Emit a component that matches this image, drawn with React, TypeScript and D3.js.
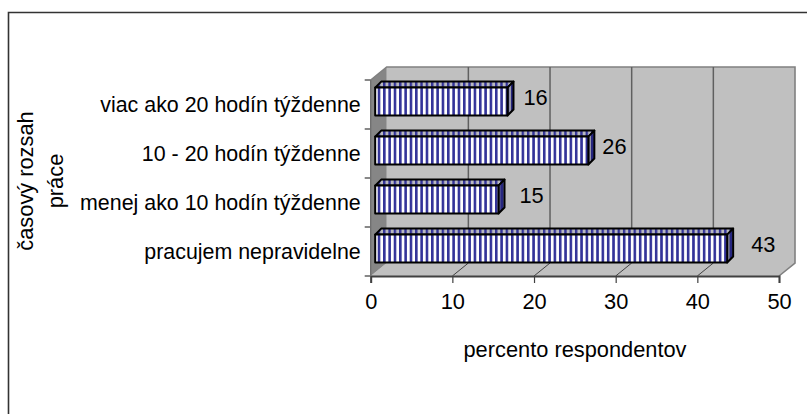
import * as d3 from 'd3';
import { useEffect, useRef } from 'react';

const categories = ['viac ako 20 hodín týždenne', '10 - 20 hodín týždenne', 'menej ako 10 hodín týždenne', 'pracujem nepravidelne'];
const values = [16.2, 26.1, 15.1, 43.1];
const valueLabels = ['16', '26', '15', '43'];
const xTicks = [0, 10, 20, 30, 40, 50];
const yTitleLines = ['časový rozsah', 'práce'];
const xTitle = 'percento respondentov';

const FONT = '"Liberation Sans", Arial, sans-serif';
const FONT_SIZE = 21.8;
const CATEGORY_FONT_SIZE = 21.4;
const width = 807, height = 414;
const plot = { left: 370.7, right: 779, top: 80, bottom: 276 };
const depth = { x: 16, y: 13 };
const bar = { depth: 6, inset: 4.5 };
const labelGap = [16, 14, 21, 24];

export default function App() {
  const ref = useRef<SVGSVGElement>(null);

  useEffect(() => {
    const svg = d3.select(ref.current);
    svg.selectAll('*').remove();

    const x = d3.scaleLinear().domain([0, 50]).range([plot.left, plot.right]);
    const y = d3.scaleBand().domain(categories).range([plot.top, plot.bottom]);
    const band = y.bandwidth();

    const defs = svg.append('defs');
    const stripes = (id: string, a: string, b: string, split: number) => {
      const w = 5.33;
      const p = defs.append('pattern').attr('id', id).attr('patternUnits', 'userSpaceOnUse')
        .attr('patternTransform', 'translate(377.7,0)')
        .attr('width', w).attr('height', 8);
      p.append('rect').attr('width', w).attr('height', 8).attr('fill', b);
      p.append('rect').attr('width', split).attr('height', 8).attr('fill', a);
    };
    stripes('front', '#333399', '#ffffff', 2.6);
    stripes('top', '#333399', '#b9b9c0', 2.4);
    stripes('side', '#262680', '#9a9aa8', 3.2);

    // chart frame, only top and left edges are in the picture
    svg.append('path').attr('d', `M8.5,${height}V12.5H${width}`)
      .attr('fill', 'none').attr('stroke', '#333').attr('stroke-width', 1.6);

    // walls and floor
    const wall = svg.append('g').attr('stroke-linejoin', 'miter');
    const poly = (pts: number[][], fill: string, stroke = 'none') =>
      wall.append('path').attr('d', d3.line()(pts as [number, number][]) + 'Z')
        .attr('fill', fill).attr('stroke', stroke);
    const L = plot.left, R = plot.right, T = plot.top, B = plot.bottom, dx = depth.x, dy = depth.y;
    poly([[L + dx, T - dy], [R + dx, T - dy], [R + dx, B - dy], [L + dx, B - dy]], '#c0c0c0');
    poly([[L, B], [R, B], [R + dx, B - dy], [L + dx, B - dy]], '#c0c0c0');
    poly([[L, T], [L + dx, T - dy], [L + dx, B - dy], [L, B]], '#868686');
    svg.append('path')
      .attr('d', `M${L},${T}L${L + dx},${T - dy}H${R + dx}V${B - dy}L${R},${B}`)
      .attr('fill', 'none').attr('stroke', '#808080').attr('stroke-width', 1.6);

    // gridlines run up the back wall and across the floor
    const grid = svg.append('g');
    grid.selectAll('path.wall').data(xTicks.slice(1, -1)).enter().append('path')
      .attr('class', 'wall').attr('fill', 'none').attr('stroke', '#606060').attr('stroke-width', 1.5)
      .attr('d', d => `M${x(d) + dx},${T - dy}V${B - dy}`);
    grid.selectAll('path.floor').data(xTicks.slice(1, -1)).enter().append('path')
      .attr('class', 'floor').attr('fill', 'none').attr('stroke', '#333').attr('stroke-width', 0.9)
      .attr('d', d => `M${x(d) + dx},${B - dy}L${x(d)},${B}`);

    // bars
    const barH = band * 0.57;
    const barTop = band * 0.155;
    const bars = svg.selectAll('g.bar').data(categories).enter().append('g').attr('class', 'bar')
      .attr('stroke', '#000').attr('stroke-width', 2).attr('stroke-linejoin', 'round');
    const d = bar.depth;
    bars.each(function (c, i) {
      const g = d3.select(this);
      const x0 = plot.left + bar.inset;
      const x1 = x(values[i]) + bar.inset;
      const y0 = y(c)! + barTop;
      const y1 = y0 + barH;
      g.append('path').attr('fill', 'url(#top)')
        .attr('d', `M${x0},${y0}L${x0 + d},${y0 - d}H${x1 + d}L${x1},${y0}Z`);
      g.append('path').attr('fill', 'url(#side)')
        .attr('d', `M${x1},${y0}L${x1 + d},${y0 - d}V${y1 - d}L${x1},${y1}Z`);
      g.append('rect').attr('x', x0).attr('y', y0).attr('width', x1 - x0).attr('height', barH)
        .attr('fill', 'url(#front)');
    });

    // value labels
    svg.selectAll('text.value').data(categories).enter().append('text').attr('class', 'value')
      .attr('x', (_, i) => x(values[i]) + bar.inset + labelGap[i])
      .attr('y', c => y(c)! + band * 0.34)
      .attr('dy', '0.36em').attr('fill', '#000')
      .attr('font-family', FONT).attr('font-size', FONT_SIZE)
      .text((_, i) => valueLabels[i]);

    // axes
    const xAxis = svg.append('g').attr('transform', `translate(0,${B})`)
      .call(d3.axisBottom(x).tickValues(xTicks).tickFormat(d3.format('d')).tickSize(7).tickPadding(11));
    xAxis.select('.domain').attr('stroke', '#404040').attr('stroke-width', 2);
    xAxis.selectAll('.tick line').attr('stroke', '#404040').attr('stroke-width', 1.2);
    xAxis.selectAll('text').attr('font-family', FONT).attr('font-size', FONT_SIZE).attr('fill', '#000');

    const yAxis = svg.append('g').attr('transform', `translate(${L},0)`)
      .call(d3.axisLeft(y).tickSize(0).tickPadding(10));
    yAxis.select('.domain').remove();
    yAxis.selectAll('.tick text').attr('font-family', FONT).attr('font-size', CATEGORY_FONT_SIZE).attr('fill', '#000')
      .attr('dy', '0.36em');
    svg.append('g').selectAll('line').data(d3.range(categories.length + 1)).enter().append('line')
      .attr('x1', L - 6).attr('x2', L)
      .attr('y1', i => T + i * band).attr('y2', i => T + i * band)
      .attr('stroke', '#555').attr('stroke-width', 1.4);
    svg.append('line').attr('x1', L).attr('x2', L).attr('y1', T).attr('y2', B)
      .attr('stroke', '#707070').attr('stroke-width', 1.4);

    // titles
    svg.selectAll('text.ytitle').data(yTitleLines).enter().append('text').attr('class', 'ytitle')
      .attr('transform', (_, i) => `translate(${33 + i * 30},181) rotate(-90)`)
      .attr('text-anchor', 'middle').attr('fill', '#000')
      .attr('font-family', FONT).attr('font-size', FONT_SIZE)
      .text(t => t);
    svg.append('text').attr('x', 575).attr('y', 357).attr('text-anchor', 'middle').attr('fill', '#000')
      .attr('font-family', FONT).attr('font-size', FONT_SIZE).text(xTitle);
  }, []);

  return (
    <svg ref={ref} width={width} height={height}
      style={{ position: 'absolute', left: 0, top: 0, display: 'block', background: '#fff' }} />
  );
}
